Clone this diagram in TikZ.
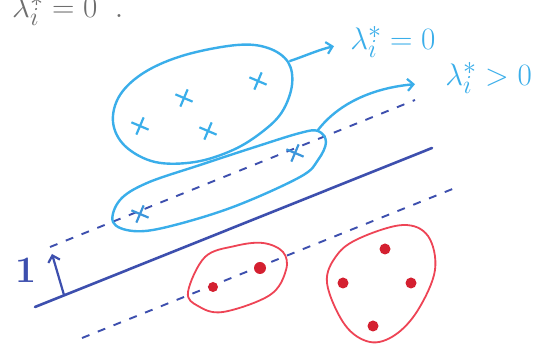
\documentclass[tikz,border=0pt]{standalone}
\usetikzlibrary{arrows.meta,shapes.misc}
\definecolor{cyanpen}{HTML}{3AAEEA}
\definecolor{bluepen}{HTML}{3D4FAE}
\definecolor{redpen}{HTML}{EE4455}
\definecolor{dotred}{HTML}{D42030}
\definecolor{graypen}{HTML}{6E6E6E}
\begin{document}
\begin{tikzpicture}[x=1pt,y=-1pt,
  cyanline/.style={draw=cyanpen, line width=2.4pt, line cap=round, line join=round},
  redline/.style={draw=redpen, line width=1.8pt, line cap=round, line join=round},
  blueline/.style={draw=bluepen, line width=2.6pt, line cap=round},
  dashline/.style={draw=bluepen, line width=1.9pt, dash pattern=on 8pt off 9pt},
  xmark/.style={draw=cyanpen, cross out, line width=2.2pt, minimum size=11pt, inner sep=0pt, rotate=22},
  xmarkdark/.style={draw=cyanpen!75!bluepen, cross out, line width=2.2pt, minimum size=11pt, inner sep=0pt, rotate=22},
  reddot/.style={circle, fill=dotred, minimum size=10pt, inner sep=0pt},
  cyanlabel/.style={text=cyanpen, font=\Huge, scale=1.25, inner sep=0pt, anchor=base west},
  barb/.style={-{Straight Barb[length=6pt,width=12pt,line width=2.2pt]}}
]
\useasboundingbox (0,0) rectangle (539,344);
\fill[white] (0,0) rectangle (539,344);

% partial top-left text
\node[text=graypen, font=\Huge, scale=1.25, inner sep=0pt, anchor=base west] (top) at (12,18) {$\lambda_i^{*} = 0\;\; .$};

% separating line and margins
\coordinate (s1) at (35,307);
\coordinate (s2) at (432,148);
\coordinate (u1) at (50,247);
\coordinate (u2) at (415,100);
\coordinate (w1) at (82,338);
\coordinate (w2) at (455,188);
\draw[blueline] (s1) -- (s2);
\draw[dashline] (u1) -- (u2);
\draw[dashline] (w1) -- (w2);

% margin arrow "1"
\coordinate (m1) at (64,295);
\coordinate (m2) at (52,254);
\draw[blueline, line width=2.2pt, -{Straight Barb[length=6pt,width=12pt,line width=2.2pt]}] (m1) -- (m2);
\node[text=bluepen, font=\bfseries\Huge, scale=1.5, inner sep=0pt] (one) at (26,270) {1};

% upper cyan cluster
\draw[cyanline] plot[smooth cycle, tension=0.6] coordinates {(237,45) (268,48) (288,62) (292,85) (282,112) (262,132) (233,150) (195,162) (155,162) (125,146) (113,122) (120,95) (145,72) (185,55)};
\node[xmark] (x1) at (140,126) {};
\node[xmark] (x2) at (184,98) {};
\node[xmark] (x3) at (208,131) {};
\node[xmark] (x4) at (258,81) {};

% lower cyan cluster (support vectors)
\draw[cyanline] plot[smooth cycle, tension=0.6] coordinates {(113,222) (120,200) (147,183) (200,165) (255,147) (300,133) (318,131) (326,142) (318,160) (300,177) (233,207) (167,227) (133,231)};
\node[xmarkdark] (x5) at (140,214) {};
\node[xmarkdark] (x6) at (295,153) {};

% labels and arrows
\node[cyanlabel] (l0) at (350,50) {$\lambda_i^{*} = 0$};
\node[cyanlabel] (l1) at (445,86) {$\lambda_i^{*} > 0$};
\coordinate (ua) at (290,61);
\coordinate (ub) at (318,130);
\draw[cyanline, barb] (ua) .. controls (305,56) and (318,50) .. ([xshift=-16pt,yshift=-4pt]l0.west);
\draw[cyanline, barb] (ub) .. controls (338,104) and (372,88) .. ([xshift=-30pt,yshift=-6pt]l1.west);

% red clusters
\draw[redline] plot[smooth cycle, tension=0.6] coordinates {(188,292) (205,257) (235,246) (263,243) (283,252) (286,270) (270,295) (223,312) (198,306)};
\node[reddot] (r1) at (213,287) {};
\node[reddot, minimum size=12pt] (r2) at (260,268) {};

\draw[redline] plot[smooth cycle, tension=0.6] coordinates {(327,283) (337,255) (360,238) (403,225) (428,236) (435,270) (418,310) (395,335) (370,342) (345,325)};
\node[reddot, minimum size=11pt] (r3) at (385,249) {};
\node[reddot, minimum size=11pt] (r4) at (343,283) {};
\node[reddot, minimum size=11pt] (r5) at (411,283) {};
\node[reddot, minimum size=11pt] (r6) at (373,326) {};
\end{tikzpicture}
\end{document}
